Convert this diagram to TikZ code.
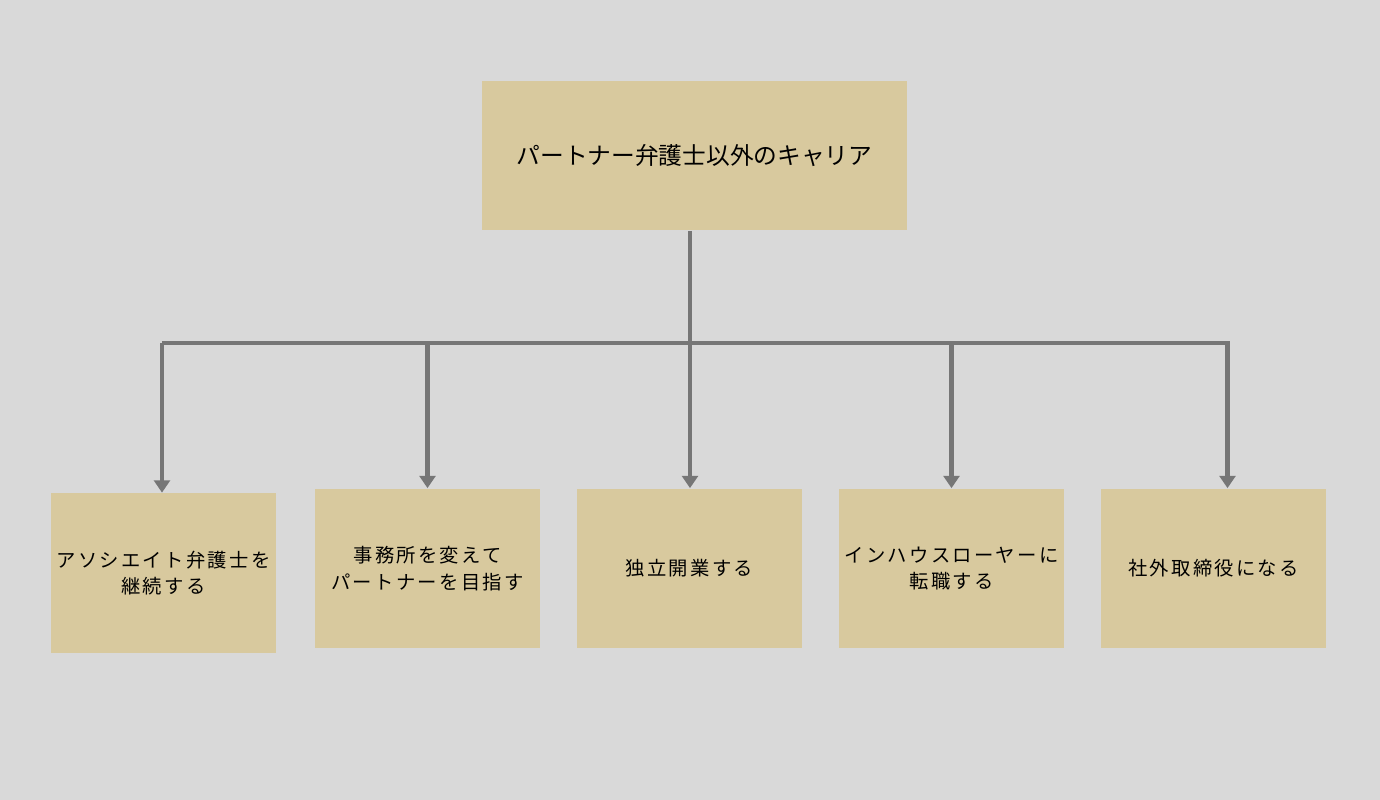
\documentclass[tikz,border=0pt]{standalone}
\usepackage{fontspec}
\setmainfont{Noto Sans CJK JP}
\usetikzlibrary{arrows.meta}
\definecolor{bgcol}{HTML}{D9D9D9}
\definecolor{boxcol}{HTML}{D8C99E}
\definecolor{linecol}{HTML}{767676}
\tikzset{
  careerbox/.style={fill=boxcol, minimum width=4.5cm, minimum height=3.2cm, align=center, font=\fontsize{11pt}{15pt}\selectfont\addfontfeatures{LetterSpace=12}},
  link/.style={draw=linecol, line width=2.4pt, -{Triangle[length=7pt,width=9pt]}}
}
\begin{document}
\begin{tikzpicture}[x={0.02cm}, y={-0.02cm}]
\fill[bgcol] (0, 0) rectangle (1380, 800);
\node[fill=boxcol, minimum width=8.5cm, minimum height=3cm, font=\fontsize{13.5pt}{16pt}\selectfont] (top) at (694.5, 155.5) {パートナー弁護士以外のキャリア};
\node[careerbox] (assoc) at (163.5, 573) {アソシエイト弁護士を\\継続する};
\node[careerbox] (move) at (427.5, 568.5) {事務所を変えて\\パートナーを目指す};
\node[careerbox] (indep) at (689.5, 568.5) {独立開業する};
\node[careerbox] (inhouse) at (951.5, 568.5) {インハウスローヤーに\\転職する};
\node[careerbox] (board) at (1213.5, 568.5) {社外取締役になる};
\coordinate (hub) at (690, 343);

\draw[draw=linecol, line width=2.4pt] (top.south -| hub) -- (hub);
\draw[link] ([xshift=-0.03cm]assoc.north |- hub) -- ([xshift=-0.03cm]assoc.north);
\draw[draw=linecol, line width=2.4pt] ([xshift=-0.03cm]assoc.north |- hub) -- (hub);
\draw[link] (hub) -| (move.north);
\draw[link] (hub) -- (indep.north -| hub);
\draw[link] (hub) -| (inhouse.north);
\draw[link] (hub) -| ([xshift=0.28cm]board.north);
\end{tikzpicture}
\end{document}
